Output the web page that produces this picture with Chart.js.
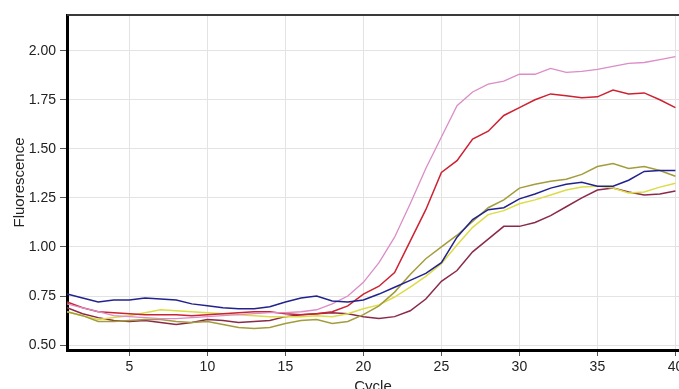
<!DOCTYPE html>
<html>
<head>
<meta charset="utf-8">
<script src="https://cdn.jsdelivr.net/npm/chart.js@4/dist/chart.umd.min.js"></script>
<style>
  html, body { margin: 0; padding: 0; background: #ffffff; }
  #wrap { width: 679px; height: 389px; position: relative; }
</style>
</head>
<body>
<div id="wrap"><canvas id="c" width="679" height="389"></canvas></div>
<script>
const cycles = [1,2,3,4,5,6,7,8,9,10,11,12,13,14,15,16,17,18,19,20,21,22,23,24,25,26,27,28,29,30,31,32,33,34,35,36,37,38,39,40];

const blueSeries   = [0.76,0.74,0.72,0.73,0.73,0.74,0.735,0.73,0.71,0.70,0.69,0.685,0.685,0.695,0.72,0.74,0.75,0.725,0.72,0.73,0.76,0.795,0.83,0.865,0.92,1.05,1.14,1.19,1.20,1.245,1.27,1.30,1.32,1.33,1.31,1.31,1.34,1.385,1.39,1.39];
const pinkSeries   = [0.71,0.69,0.67,0.65,0.645,0.64,0.635,0.635,0.64,0.645,0.65,0.655,0.66,0.665,0.665,0.67,0.68,0.71,0.75,0.82,0.92,1.05,1.22,1.40,1.56,1.72,1.79,1.83,1.845,1.88,1.88,1.91,1.89,1.895,1.905,1.92,1.935,1.94,1.955,1.97];
const redSeries    = [0.72,0.69,0.67,0.665,0.66,0.655,0.655,0.655,0.65,0.655,0.66,0.665,0.67,0.67,0.66,0.655,0.66,0.67,0.70,0.76,0.80,0.87,1.03,1.19,1.38,1.44,1.55,1.59,1.67,1.71,1.75,1.78,1.77,1.76,1.765,1.80,1.78,1.785,1.75,1.71];
const oliveSeries  = [0.67,0.65,0.62,0.62,0.625,0.63,0.63,0.62,0.615,0.62,0.605,0.59,0.585,0.59,0.61,0.625,0.63,0.61,0.62,0.655,0.70,0.77,0.86,0.94,1.00,1.06,1.13,1.20,1.24,1.30,1.32,1.335,1.345,1.37,1.41,1.425,1.40,1.41,1.39,1.36];
const yellowSeries = [0.67,0.65,0.63,0.64,0.65,0.665,0.68,0.675,0.67,0.665,0.66,0.655,0.65,0.645,0.645,0.645,0.65,0.645,0.66,0.685,0.705,0.745,0.795,0.85,0.915,1.01,1.10,1.165,1.185,1.22,1.24,1.265,1.29,1.305,1.31,1.30,1.275,1.28,1.305,1.325];
const maroonSeries = [0.69,0.66,0.64,0.625,0.62,0.625,0.615,0.605,0.615,0.63,0.625,0.615,0.62,0.625,0.645,0.655,0.66,0.665,0.66,0.645,0.635,0.645,0.675,0.735,0.825,0.88,0.975,1.04,1.105,1.105,1.125,1.16,1.205,1.25,1.29,1.30,1.28,1.265,1.27,1.285];

const xTickValues = [5,10,15,20,25,30,35,40];
const yTickValues = [0.50,0.75,1.00,1.25,1.50,1.75,2.00];
const xTitle = "Cycle";
const yTitle = "Fluorescence";

function pts(arr) { return cycles.map((c, i) => ({ x: c, y: arr[i] })); }

const seriesDefs = [
  { label: "S1", data: blueSeries,   color: "#22228e", w: 1.5 },
  { label: "S2", data: pinkSeries,   color: "#dc8cc6", w: 1.3 },
  { label: "S3", data: redSeries,    color: "#cc2232", w: 1.5 },
  { label: "S4", data: oliveSeries,  color: "#a39c3c", w: 1.5 },
  { label: "S5", data: yellowSeries, color: "#dcdc48", w: 1.5 },
  { label: "S6", data: maroonSeries, color: "#8a2a48", w: 1.5 }
];

const topBorder = {
  id: "topBorder",
  afterDraw(chart) {
    const { ctx, chartArea } = chart;
    ctx.save();
    ctx.strokeStyle = "#3a3a3a";
    ctx.lineWidth = 2;
    ctx.beginPath();
    ctx.moveTo(chartArea.left, chartArea.top);
    ctx.lineTo(chart.width, chartArea.top);
    ctx.stroke();
    ctx.restore();
  }
};

new Chart(document.getElementById("c"), {
  type: "line",
  data: {
    datasets: seriesDefs.map(s => ({
      label: s.label,
      data: pts(s.data),
      borderColor: s.color,
      backgroundColor: s.color,
      borderWidth: s.w,
      pointRadius: 0,
      tension: 0,
      fill: false
    }))
  },
  options: {
    responsive: false,
    animation: false,
    devicePixelRatio: 1,
    layout: { padding: { top: 15, right: 0, left: 0, bottom: 0 } },
    plugins: { legend: { display: false }, tooltip: { enabled: false } },
    scales: {
      x: {
        type: "linear",
        min: 1,
        max: 40.23,
        afterFit(s) { s.height = 39; s.paddingLeft = 0; s.paddingRight = 0; },
        afterBuildTicks(s) { s.ticks = xTickValues.map(v => ({ value: v })); },
        ticks: {
          autoSkip: false,
          maxRotation: 0,
          padding: 3,
          color: "#222",
          font: { family: "'Liberation Sans', Arial, sans-serif", size: 14 },
          callback: v => String(v)
        },
        grid: { color: "#e3e3e3", lineWidth: 1, tickLength: 6, tickColor: "#555", drawTicks: true },
        border: { color: "#000", width: 3 },
        title: {
          display: true,
          text: xTitle,
          color: "#222",
          font: { family: "'Liberation Sans', Arial, sans-serif", size: 15 },
          padding: { top: 0, bottom: -7 }
        }
      },
      y: {
        type: "linear",
        min: 0.475,
        max: 2.182,
        afterFit(s) { s.width = 67; s.paddingTop = 0; s.paddingBottom = 0; },
        afterBuildTicks(s) { s.ticks = yTickValues.map(v => ({ value: v })); },
        ticks: {
          autoSkip: false,
          padding: 4,
          color: "#222",
          font: { family: "'Liberation Sans', Arial, sans-serif", size: 14 },
          callback: v => Number(v).toFixed(2)
        },
        grid: { color: "#e3e3e3", lineWidth: 1, tickLength: 7, tickColor: "#555", drawTicks: true },
        border: { color: "#000", width: 3 },
        title: {
          display: true,
          text: yTitle,
          color: "#222",
          font: { family: "'Liberation Sans', Arial, sans-serif", size: 15 },
          padding: { top: 11, bottom: 0 }
        }
      }
    }
  },
  plugins: [topBorder]
});
</script>
</body>
</html>
